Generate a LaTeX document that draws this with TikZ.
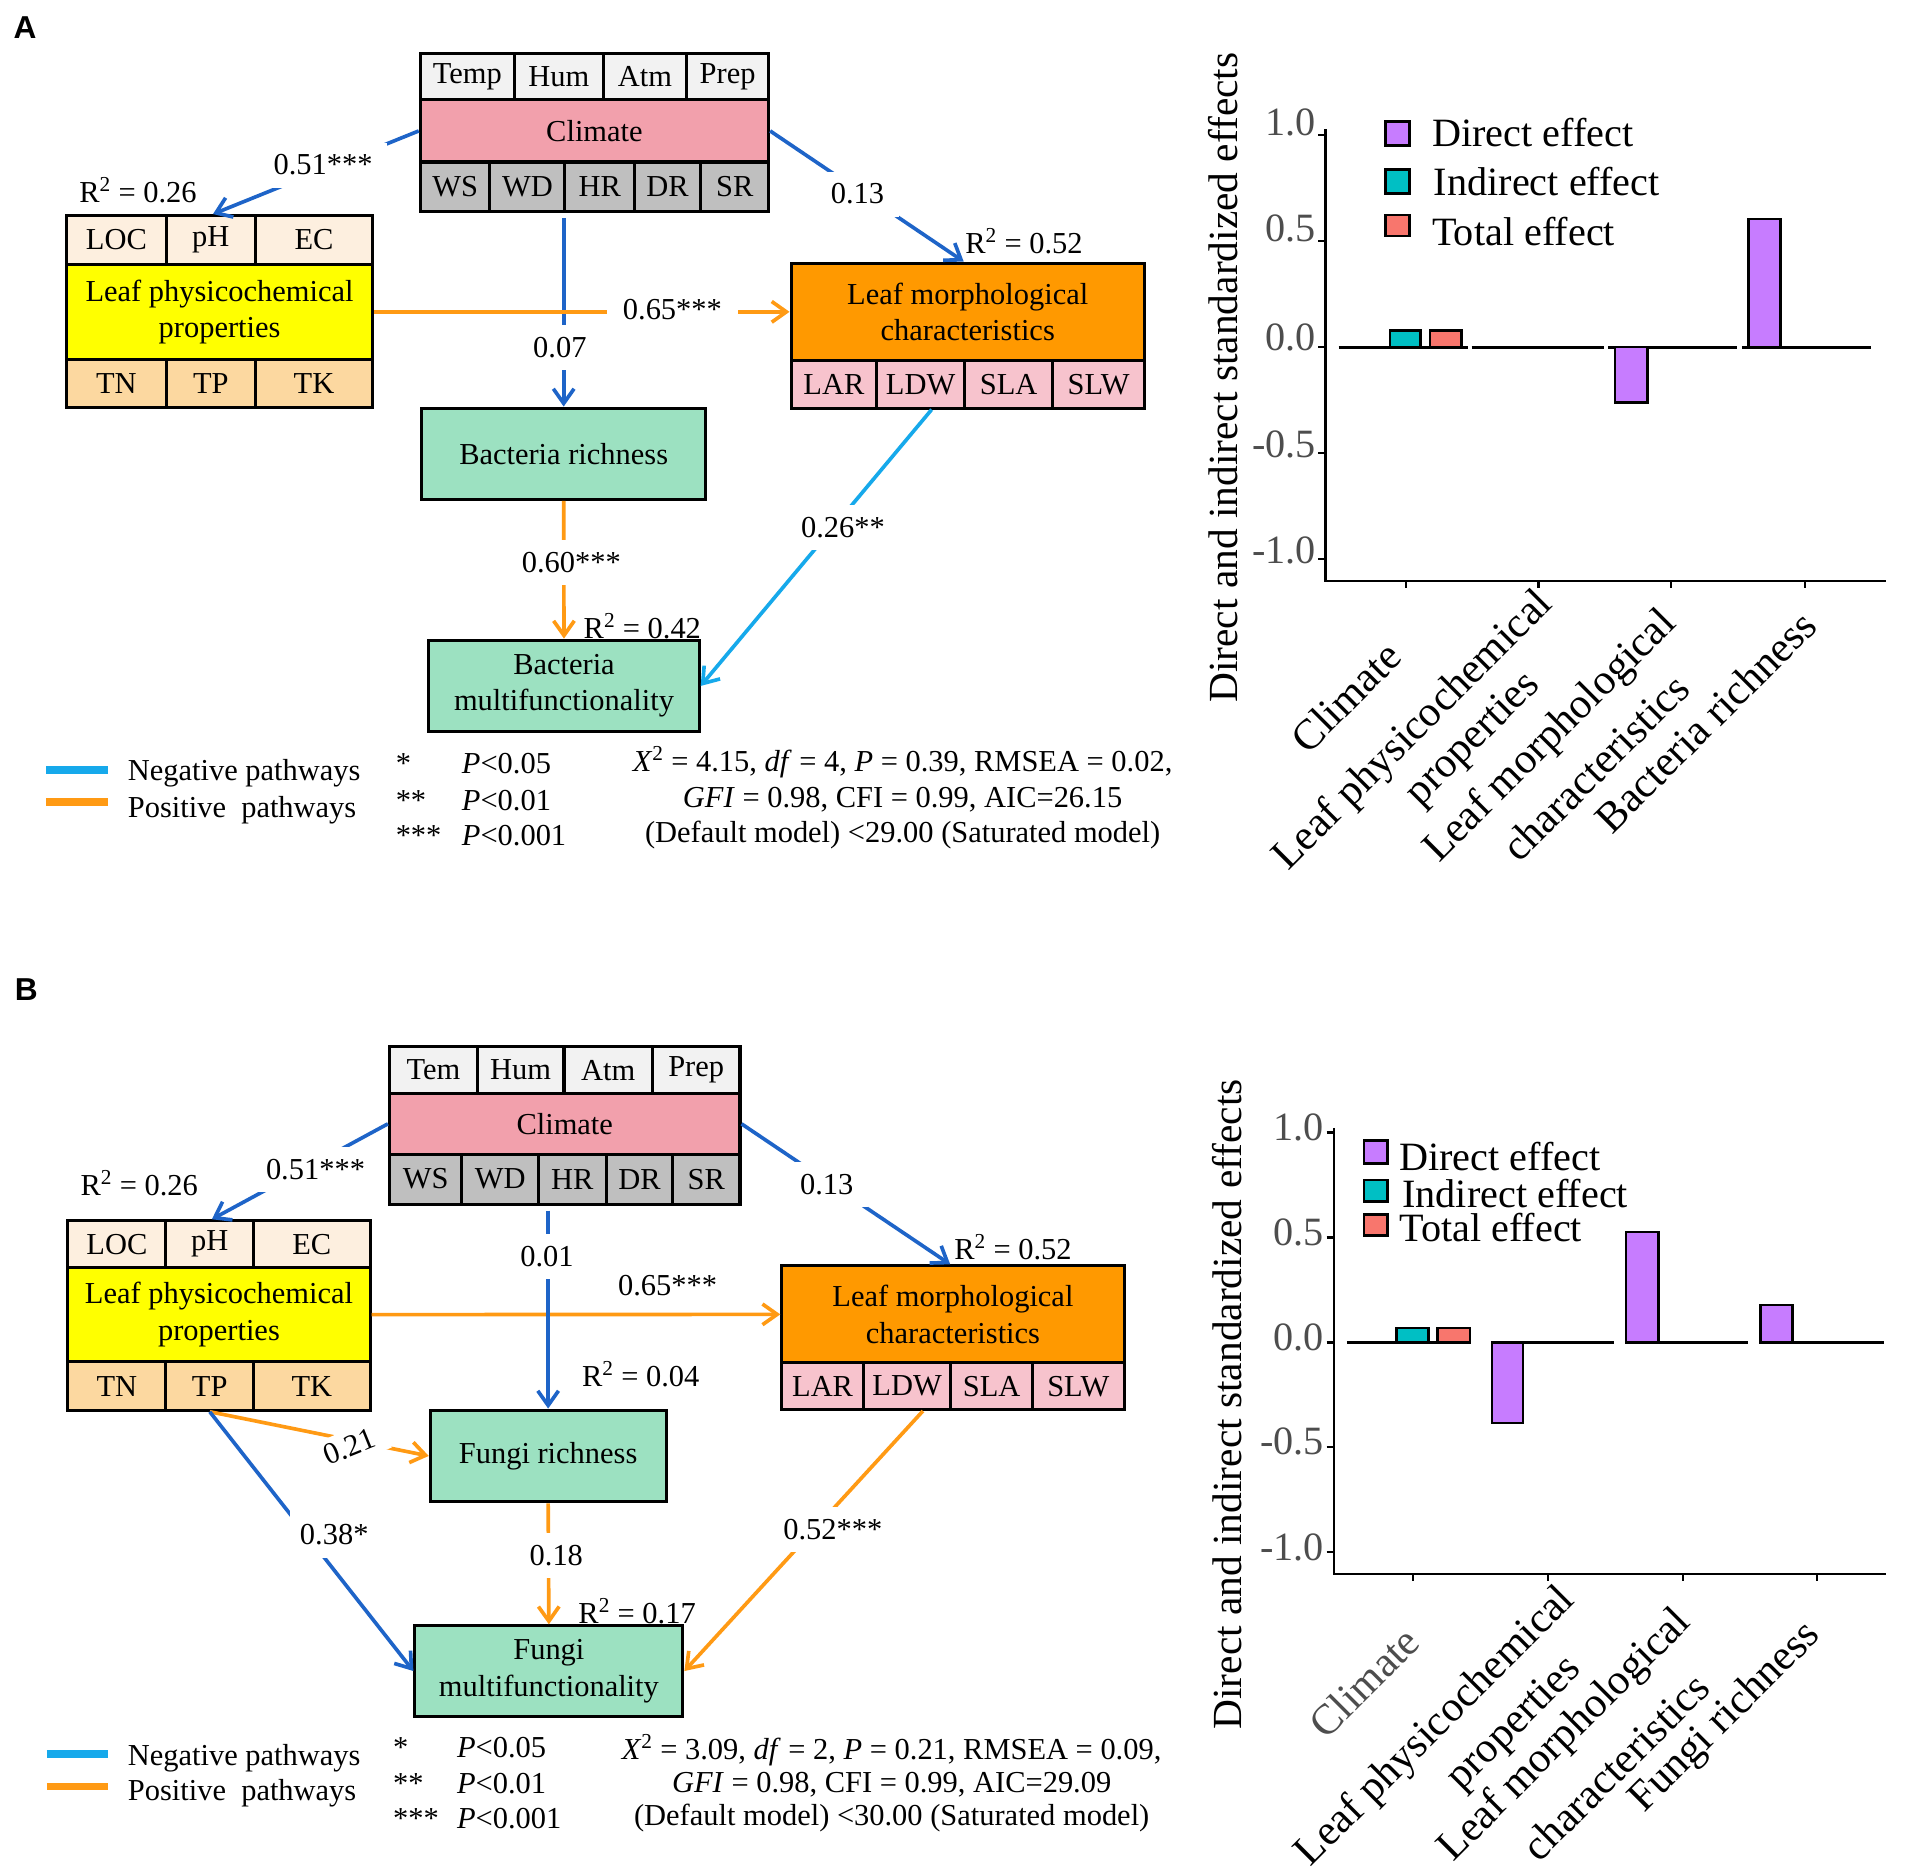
\documentclass[tikz,border=0pt]{standalone}
\usepackage{fontspec}
\setmainfont{Liberation Serif}
\newfontfamily\panelfont{Liberation Sans}
\usetikzlibrary{arrows.meta,calc}
\definecolor{clim}{HTML}{F2A0AC}
\definecolor{toprow}{HTML}{F2F2F2}
\definecolor{botrow}{HTML}{BFBFBF}
\definecolor{lptop}{HTML}{FDEFDF}
\definecolor{lpbot}{HTML}{FCD8A0}
\definecolor{lpmid}{HTML}{FFFF00}
\definecolor{lmmid}{HTML}{FF9900}
\definecolor{lmbot}{HTML}{F7C3CD}
\definecolor{grn}{HTML}{9CE1C1}
\definecolor{negc}{HTML}{1E64C8}
\definecolor{negl}{HTML}{16A9EB}
\definecolor{posc}{HTML}{FF9A14}
\definecolor{pdir}{HTML}{C77CFF}
\definecolor{pind}{HTML}{00BFC4}
\definecolor{ptot}{HTML}{F8766D}
\definecolor{tickgray}{HTML}{4D4D4D}
\tikzset{
 sbox/.style={draw=black, line width=2.5pt, inner sep=0pt, align=center, font=\fontsize{25}{30}\selectfont},
 conn/.style={line width=3pt, -{Straight Barb[length=12pt,width=17pt]}},
 negarr/.style={conn, draw=negc},
 lnegarr/.style={conn, draw=negl},
 posarr/.style={conn, draw=posc},
 lbl/.style={fill=white, inner xsep=12pt, inner ysep=10pt, font=\fontsize{25}{30}\selectfont},
 txt/.style={inner sep=0pt, font=\fontsize{25}{30}\selectfont},
 ctxt/.style={inner sep=0pt, font=\fontsize{33}{38}\selectfont},
 ylab/.style={inner sep=0pt, rotate=90, font=\fontsize{34}{38}\selectfont},
 xlab/.style={inner sep=0pt, rotate=45, font=\fontsize{35}{40}\selectfont},
 bar/.style={draw=black, line width=2pt},
 axisline/.style={line width=2pt},
 zline/.style={line width=2.5pt},
 legline/.style={line width=6pt},
 panel/.style={inner sep=0pt, anchor=base west, font={\panelfont\bfseries\fontsize{26}{30}\selectfont}},
}
\newcommand\mycell[7]{\node[sbox,fill=#2,minimum width={(#5-#3)*1pt},minimum height={(#6-#4)*1pt}] (#1) at ({(#3+#5)/2},{(#4+#6)/2}) {#7};}
\begin{document}
\begin{tikzpicture}[x={(1pt,0)},y={(0,-1pt)}]
\fill[white] (0,0) rectangle (1568,1538);
\useasboundingbox (0,0) rectangle (1568,1538);

%================ PANEL A ================
\node[panel] (labA) at (11,31.5) {A};
\mycell{tempA}{toprow}{345}{44}{422.4}{82}{Temp}
\mycell{humA}{toprow}{422.4}{44}{495.3}{82}{Hum}
\mycell{atmA}{toprow}{495.3}{44}{563.6}{82}{Atm}
\mycell{prepA}{toprow}{563.6}{44}{631}{82}{Prep}
\mycell{climA}{clim}{345}{82}{631}{133}{Climate}
\mycell{wsA}{botrow}{345}{133}{402.2}{174}{WS}
\mycell{wdA}{botrow}{402.2}{133}{463.8}{174}{WD}
\mycell{hrA}{botrow}{463.8}{133}{520.8}{174}{HR}
\mycell{drA}{botrow}{520.8}{133}{575.3}{174}{DR}
\mycell{srA}{botrow}{575.3}{133}{631}{174}{SR}
\mycell{locA}{lptop}{54.5}{177}{136.6}{217}{LOC}
\mycell{phA}{lptop}{136.6}{177}{209.5}{217}{pH}
\mycell{ecA}{lptop}{209.5}{177}{306}{217}{EC}
\mycell{lpA}{lpmid}{54.5}{217}{306}{295}{Leaf physicochemical\\properties}
\mycell{tnA}{lpbot}{54.5}{295}{136.6}{334.5}{TN}
\mycell{tpA}{lpbot}{136.6}{295}{209.5}{334.5}{TP}
\mycell{tkA}{lpbot}{209.5}{295}{306}{334.5}{TK}
\mycell{lmA}{lmmid}{649.4}{216}{939.5}{296}{Leaf morphological\\characteristics}
\mycell{larA}{lmbot}{649.4}{296}{719.8}{335}{LAR}
\mycell{ldwA}{lmbot}{719.8}{296}{791.8}{335}{LDW}
\mycell{slaA}{lmbot}{791.8}{296}{864.3}{335}{SLA}
\mycell{slwA}{lmbot}{864.3}{296}{939.5}{335}{SLW}
\mycell{brA}{grn}{346}{335}{579.5}{410}{Bacteria richness}
\mycell{bmA}{grn}{352}{525.5}{574}{600.7}{Bacteria\\multifunctionality}

\draw[negarr] (climA.west) -- ($(phA.north west)+(39.5,0)$);
\draw[negarr] (climA.east) -- ($(lmA.north west)+(143,0)$);
\draw[negarr] ($(brA.north |- hrA.south)+(0,4)$) -- (brA.north);
\draw[posarr] (lpA.east) -- (lmA.west);
\draw[posarr] (brA.south) -- (bmA.north);
\draw[lnegarr] ($(ldwA.south)+(9,0)$) -- (bmA.east);

\node[lbl] (l1A) at (265.2,135.5) {0.51***};
\node[lbl] (l2A) at (703.9,159.3) {0.13};
\node[lbl, inner xsep=13pt] (l3A) at (552,254) {0.65***};
\node[lbl] (l4A) at (459.6,285.2) {0.07};
\node[lbl] (l5A) at (469,461.7) {0.60***};
\node[lbl, inner xsep=14pt] (l6A) at (692,433) {0.26**};

\node[txt, anchor=west] (r2lpA) at (65,156) {R\textsuperscript{2} = 0.26};
\node[txt, anchor=west] (r2lmA) at (792.3,197.6) {R\textsuperscript{2} = 0.52};
\node[txt, anchor=west] (r2bmA) at (479,513.7) {R\textsuperscript{2} = 0.42};

\draw[legline, negl] (38,632) -- (89,632);
\draw[legline, posc] (38,658.5) -- (89,658.5);
\node[txt, anchor=west] (legnA) at (104.8,635) {Negative pathways};
\node[txt, anchor=west] (legpA) at (104.8,665) {Positive~~pathways};
\node[txt, anchor=base west] (s1A) at (324.7,635) {*};
\node[txt, anchor=base west] (s2A) at (324.7,665) {**};
\node[txt, anchor=base west] (s3A) at (324.7,694) {***};
\node[txt, anchor=base west] (p1A) at (379,635) {\textit{P}<0.05};
\node[txt, anchor=base west] (p2A) at (379,665) {\textit{P}<0.01};
\node[txt, anchor=base west] (p3A) at (379,694) {\textit{P}<0.001};
\node[txt, anchor=base] (st1A) at (741,633.5) {\textit{X}\textsuperscript{2} = 4.15, \textit{df} = 4, \textit{P} = 0.39, RMSEA = 0.02,};
\node[txt, anchor=base] (st2A) at (741,662.5) {\textit{GFI} = 0.98, CFI = 0.99, AIC=26.15};
\node[txt, anchor=base] (st3A) at (741,691.5) {(Default model) <29.00 (Saturated model)};

% chart A
\draw[zline] (1099,285) -- (1205,285);
\draw[zline] (1208,285) -- (1317,285);
\draw[zline] (1320,285) -- (1426,285);
\draw[zline] (1430,285) -- (1536,285);
\draw[bar, fill=pind] (1141,285) rectangle (1166,271.3);
\draw[bar, fill=ptot] (1173.7,285) rectangle (1199.8,271.3);
\draw[bar, fill=pdir] (1325.7,285) rectangle (1352.5,330.5);
\draw[bar, fill=pdir] (1435.5,285) rectangle (1461.6,179.8);
\draw[axisline] (1088,106) -- (1088,477) -- (1548,477);
\foreach \yy in {111,198,285,372,459} \draw[axisline] (1082,\yy) -- (1088,\yy);
\foreach \xx in {1154,1263,1372,1482} \draw[axisline] (\xx,477) -- (\xx,483);
\node[ctxt, text=tickgray, anchor=east] (yt1A) at (1080.5,100.5) {1.0};
\node[ctxt, text=tickgray, anchor=east] (yt2A) at (1080.5,187.8) {0.5};
\node[ctxt, text=tickgray, anchor=east] (yt3A) at (1080.5,277.4) {0.0};
\node[ctxt, text=tickgray, anchor=east] (yt4A) at (1080.5,364.7) {-0.5};
\node[ctxt, text=tickgray, anchor=east] (yt5A) at (1080.5,451.9) {-1.0};
\draw[bar, fill=pdir] (1137.5,99.6) rectangle (1157,119.4);
\draw[bar, fill=pind] (1137.5,139.2) rectangle (1157,159);
\draw[bar, fill=ptot] (1137.5,176.5) rectangle (1157,193.9);
\node[ctxt, anchor=west] (lg1A) at (1175.5,109) {Direct effect};
\node[ctxt, anchor=west] (lg2A) at (1177,149) {Indirect effect};
\node[ctxt, anchor=west] (lg3A) at (1175.5,190) {Total effect};
\node[ylab] (yaxA) at (1004,310) {Direct and indirect standardized effects};
\node[xlab] (x1A) at (1104.8,572.2) {Climate};
\node[xlab] (x2A) at (1160.6,600.5) {Leaf physicochemical};
\node[xlab] (x3A) at (1210,607.5) {properties};
\node[xlab] (x4A) at (1273.3,605.2) {Leaf morphological};
\node[xlab] (x5A) at (1309.6,630) {characteristics};
\node[xlab] (x6A) at (1400,592.2) {Bacteria richness};

%================ PANEL B ================
\node[panel] (labB) at (12,821.6) {B};
\mycell{temB}{toprow}{319.7}{859.3}{391.8}{897.7}{Tem}
\mycell{humB}{toprow}{391.8}{859.3}{463}{897.7}{Hum}
\mycell{atmB}{toprow}{463}{859.3}{535.5}{897.7}{Atm}
\mycell{prepB}{toprow}{535.5}{859.3}{607.5}{897.7}{Prep}
\mycell{climB}{clim}{319.7}{897.7}{607.5}{947.5}{Climate}
\mycell{wsB}{botrow}{319.7}{947.5}{379.2}{988.5}{WS}
\mycell{wdB}{botrow}{379.2}{947.5}{442}{988.5}{WD}
\mycell{hrB}{botrow}{442}{947.5}{497.8}{988.5}{HR}
\mycell{drB}{botrow}{497.8}{947.5}{552.2}{988.5}{DR}
\mycell{srB}{botrow}{552.2}{947.5}{607.5}{988.5}{SR}
\mycell{locB}{lptop}{55.7}{1002.2}{136.2}{1040.5}{LOC}
\mycell{phB}{lptop}{136.2}{1002.2}{208.2}{1040.5}{pH}
\mycell{ecB}{lptop}{208.2}{1002.2}{303.8}{1040.5}{EC}
\mycell{lpB}{lpmid}{55.7}{1040.5}{303.8}{1118}{Leaf physicochemical\\properties}
\mycell{tnB}{lpbot}{55.7}{1118}{136.2}{1157.7}{TN}
\mycell{tpB}{lpbot}{136.2}{1118}{208.2}{1157.7}{TP}
\mycell{tkB}{lpbot}{208.2}{1118}{303.8}{1157.7}{TK}
\mycell{lmB}{lmmid}{641.8}{1039.2}{922.8}{1118.8}{Leaf morphological\\characteristics}
\mycell{larB}{lmbot}{641.8}{1118.8}{708.8}{1157.1}{LAR}
\mycell{ldwB}{lmbot}{708.8}{1118.8}{780.5}{1157.1}{LDW}
\mycell{slaB}{lmbot}{780.5}{1118.8}{847.6}{1157.1}{SLA}
\mycell{slwB}{lmbot}{847.6}{1118.8}{922.8}{1157.1}{SLW}
\mycell{frB}{grn}{353.2}{1157.6}{546.8}{1232.9}{Fungi richness}
\mycell{fmB}{grn}{340.6}{1334.7}{560.6}{1408.9}{Fungi\\multifunctionality}

\draw[negarr] (climB.west) -- ($(phB.north west)+(39,0)$);
\draw[negarr] (climB.east) -- ($(lmB.north west)+(139.5,0)$);
\draw[posarr] (lpB.east) -- (lmB.west);
\draw[negarr] ($(frB.north |- hrB.south)+(0,4)$) -- (frB.north);
\draw[posarr] (tpB.south) -- (frB.west);
\draw[negarr] (tpB.south) -- (fmB.west);
\draw[posarr] (frB.south) -- (fmB.north);
\draw[posarr] ($(ldwB.south)+(13,0)$) -- (fmB.east);

\node[lbl] (l1B) at (259,960) {0.51***};
\node[lbl] (l2B) at (678.7,972.1) {0.13};
\node[txt] (l3B) at (548,1055) {0.65***};
\node[lbl] (l4B) at (449,1031.2) {0.01};
\node[lbl, rotate=22, inner xsep=10pt, inner ysep=5pt] (l5B) at (287,1187.7) {0.21};
\node[lbl, inner xsep=8pt, inner ysep=11pt] (l6B) at (274.4,1259.4) {0.38*};
\node[lbl] (l7B) at (456.7,1277.2) {0.18};
\node[lbl, inner xsep=11.5pt] (l8B) at (683.7,1255.5) {0.52***};

\node[txt, anchor=west] (r2lpB) at (66,971.5) {R\textsuperscript{2} = 0.26};
\node[txt, anchor=west] (r2lmB) at (783.3,1023.6) {R\textsuperscript{2} = 0.52};
\node[txt, anchor=west] (r2frB) at (477.7,1128.4) {R\textsuperscript{2} = 0.04};
\node[txt, anchor=west] (r2fmB) at (474.7,1322.4) {R\textsuperscript{2} = 0.17};

\draw[legline, negl] (38.5,1440) -- (88.8,1440);
\draw[legline, posc] (38.5,1466.4) -- (88.8,1466.4);
\node[txt, anchor=west] (legnB) at (104.8,1443.7) {Negative pathways};
\node[txt, anchor=west] (legpB) at (104.8,1472.4) {Positive~~pathways};
\node[txt, anchor=base west] (s1B) at (322.6,1443) {*};
\node[txt, anchor=base west] (s2B) at (322.6,1472) {**};
\node[txt, anchor=base west] (s3B) at (322.6,1501) {***};
\node[txt, anchor=base west] (p1B) at (375,1443) {\textit{P}<0.05};
\node[txt, anchor=base west] (p2B) at (375,1472) {\textit{P}<0.01};
\node[txt, anchor=base west] (p3B) at (375,1501) {\textit{P}<0.001};
\node[txt, anchor=base] (st1B) at (732,1444.5) {\textit{X}\textsuperscript{2} = 3.09, \textit{df} = 2, \textit{P} = 0.21, RMSEA = 0.09,};
\node[txt, anchor=base] (st2B) at (732,1471.5) {\textit{GFI} = 0.98, CFI = 0.99, AIC=29.09};
\node[txt, anchor=base] (st3B) at (732,1498.5) {(Default model) <30.00 (Saturated model)};

% chart B
\draw[zline] (1105.7,1102) -- (1206.6,1102);
\draw[zline] (1225,1102) -- (1325,1102);
\draw[zline] (1334.7,1102) -- (1435.2,1102);
\draw[zline] (1445,1102) -- (1547,1102);
\draw[bar, fill=pind] (1146.6,1102) rectangle (1172.6,1090.3);
\draw[bar, fill=ptot] (1180.2,1102) rectangle (1206.6,1090.3);
\draw[bar, fill=pdir] (1225,1102) rectangle (1250.5,1168.4);
\draw[bar, fill=pdir] (1334.7,1102) rectangle (1361.4,1011.4);
\draw[bar, fill=pdir] (1445.1,1102) rectangle (1471.5,1071.2);
\draw[axisline] (1095,926) -- (1095,1292) -- (1548,1292);
\foreach \yy in {929.8,1016,1102,1188,1274.2} \draw[axisline] (1089,\yy) -- (1095,\yy);
\foreach \xx in {1160,1270.8,1381.7,1491.8} \draw[axisline] (\xx,1292) -- (\xx,1298);
\node[ctxt, text=tickgray, anchor=east] (yt1B) at (1087,925.5) {1.0};
\node[ctxt, text=tickgray, anchor=east] (yt2B) at (1087,1012) {0.5};
\node[ctxt, text=tickgray, anchor=east] (yt3B) at (1087,1098) {0.0};
\node[ctxt, text=tickgray, anchor=east] (yt4B) at (1087,1183.6) {-0.5};
\node[ctxt, text=tickgray, anchor=east] (yt5B) at (1087,1270) {-1.0};
\draw[bar, fill=pdir] (1119.8,936.3) rectangle (1139,955);
\draw[bar, fill=pind] (1119.8,968.9) rectangle (1139,986.2);
\draw[bar, fill=ptot] (1119.8,997) rectangle (1139,1014.4);
\node[ctxt, anchor=west] (lg1B) at (1148.5,949.3) {Direct effect};
\node[ctxt, anchor=west] (lg2B) at (1151,979.7) {Indirect effect};
\node[ctxt, anchor=west] (lg3B) at (1148.5,1008) {Total effect};
\node[ylab] (yaxB) at (1007,1153) {Direct and indirect standardized effects};
\node[xlab, text=tickgray] (x1B) at (1119.9,1381) {Climate};
\node[xlab] (x2B) at (1179,1417.9) {Leaf physicochemical};
\node[xlab] (x3B) at (1244,1415.7) {properties};
\node[xlab] (x4B) at (1285.2,1425.4) {Leaf morphological};
\node[xlab] (x5B) at (1326.2,1450.3) {characteristics};
\node[xlab] (x6B) at (1417,1410.2) {Fungi richness};
\end{tikzpicture}
\end{document}
